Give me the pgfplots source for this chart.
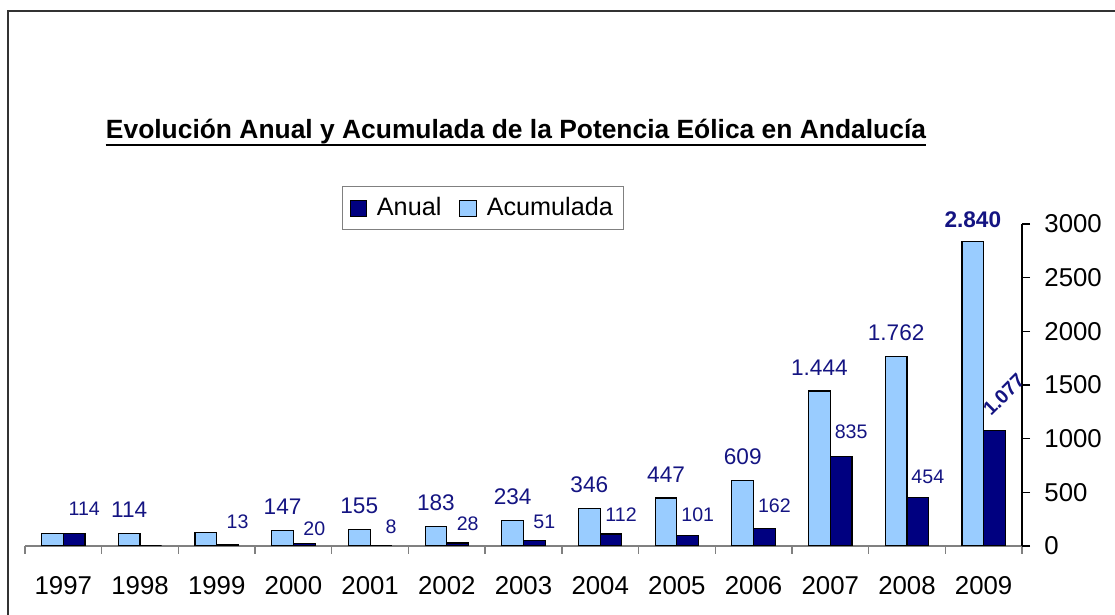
\documentclass[border=0pt]{standalone}
\usepackage{fontspec}
\setmainfont{Liberation Sans}
\usepackage{pgfplots}
\usepackage{pgfplotstable}
\pgfplotsset{compat=1.18}

\definecolor{anual}{RGB}{0,0,128}
\definecolor{acum}{RGB}{153,204,255}
\definecolor{lbl}{RGB}{20,20,130}

% potencia acumulada (MW); dx/dy = desplazamiento de la etiqueta en pt
\pgfplotstableread{
x y lab dx dy rot
0 114 {} 0 8 0
1 114 114 0 8 0
2 127 {} 0 8 0
3 147 147 0 8 0
4 155 155 0 8 0
5 183 183 0 8 0
6 234 234 0 8 0
7 346 346 0 8 0
8 447 447 0 8 0
9 609 609 0 8 0
10 1444 1.444 0 8 0
11 1762 1.762 0 8 0
12 2840 {\textbf{2.840}} 0 7 0
}\acumulada

% potencia anual instalada (MW)
\pgfplotstableread{
x y lab dx dy rot
0 114 114 5 9 0
1 0 {} 5 7 0
2 13 13 5 8 0
3 20 20 5 4 0
4 8 8 5 6 0
5 28 28 5 6 0
6 51 51 5 6 0
7 112 112 5 6 0
8 101 101 5 7 0
9 162 162 5 8 0
10 835 835 5 9 0
11 454 454 5 7 0
12 1077 {\textbf{1.077}} 7 15.5 45
}\anualtab

\begin{document}
\begin{tikzpicture}
\useasboundingbox (0,0) rectangle (557.5pt,307.5pt);
% marco
\draw[line width=1pt, black!80] (4pt,-2pt) -- (4pt,302pt) -- (560pt,302pt);
% titulo subrayado
\node[anchor=base, inner sep=0pt, font=\fontsize{13.2}{15}\selectfont\bfseries] (tit) at (258pt,238pt)
  {Evolución Anual y Acumulada de la Potencia Eólica en Andalucía};
\draw[line width=1pt] ([yshift=-3pt]tit.base west) -- ([yshift=-3pt]tit.base east);

\begin{axis}[
    at={(12.5pt,34.5pt)}, anchor=south west,
    scale only axis, width=498.5pt, height=161pt,
    ybar=0pt, bar width=10.85pt,
    xmin=-0.5, xmax=12.5, ymin=0, ymax=3000,
    axis x line*=bottom, axis y line*=right,
    x axis line style={draw=gray, line width=0.7pt},
    y axis line style={draw=black, line width=0.6pt},
    xtick={0,...,12},
    xticklabels={1997,1998,1999,2000,2001,2002,2003,2004,2005,2006,2007,2008,2009},
    minor xtick={-0.5,0.5,...,12.5},
    every major x tick/.append style={draw=none},
    every minor x tick/.append style={draw=gray, line width=0.7pt},
    every major y tick/.append style={draw=black, line width=0.6pt},
    tick align=outside,
    major tick length=4pt, minor tick length=4pt,
    ytick={0,500,...,3000},
    /pgf/number format/assume math mode=true,
    /pgf/number format/1000 sep={},
    tick label style={font=\fontsize{12.9}{14}\selectfont, text=black},
    x tick label style={anchor=north, inner sep=0pt, yshift=-11pt},
    y tick label style={anchor=west, inner sep=0pt, xshift=7pt},
    point meta=explicit symbolic,
    nodes near coords,
    visualization depends on={\thisrow{dx} \as \ldx},
    visualization depends on={\thisrow{dy} \as \ldy},
    visualization depends on={\thisrow{rot} \as \lrot},
    every node near coord/.append style={text=lbl, inner sep=0pt, anchor=base,
        xshift=\ldx pt, yshift=\ldy pt, rotate=\lrot},
    legend style={at={(0.318,1.118)}, anchor=north west, draw=gray, line width=0.5pt,
        fill=white, font=\fontsize{12.6}{14}\selectfont, inner xsep=3.5pt, inner ysep=3.5pt,
        legend columns=2, /tikz/every even column/.append style={column sep=7pt},
        /tikz/every odd column/.append style={column sep=3pt}},
    legend image code/.code={\draw[#1, line width=0.5pt] (0pt,-4pt) rectangle (8.2pt,4pt);},
    reverse legend,
]
\addplot[fill=acum, draw=black, line width=0.6pt,
    every node near coord/.append style={font=\fontsize{11.3}{13}\selectfont}]
    table[x=x, y=y, meta=lab] {\acumulada};
\addlegendentry{Acumulada}
\addplot[fill=anual, draw=black, line width=0.6pt,
    every node near coord/.append style={font=\fontsize{9.8}{12}\selectfont}]
    table[x=x, y=y, meta=lab] {\anualtab};
\addlegendentry{Anual}
\end{axis}
\end{tikzpicture}
\end{document}
